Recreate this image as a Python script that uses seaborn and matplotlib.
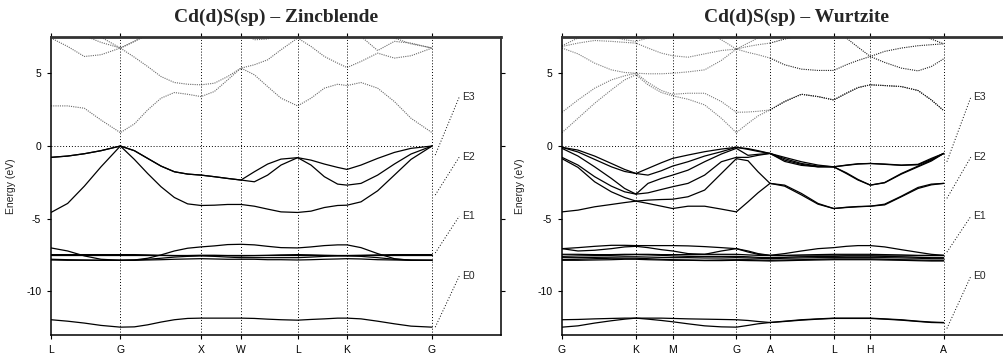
import matplotlib
matplotlib.use("Agg")
import matplotlib.pyplot as plt
import seaborn as sns

#Style
sns.set_style("ticks")
plt.rcParams['font.family'] = ['Liberation Sans', 'DejaVu Sans']
plt.rcParams['axes.unicode_minus'] = False

#Zincblende path L-G-X-W-L-K-G
zb_k = [0.000, 0.208, 0.417, 0.625, 0.867, 1.042, 1.208, 1.375, 1.542, 1.708, 1.875,
        2.042, 2.208, 2.375, 2.542, 2.708, 2.875, 3.083, 3.250, 3.417, 3.583, 3.700,
        3.875, 4.083, 4.292, 4.500, 4.763]
zb_ticks = [0.000, 0.867, 1.875, 2.375, 3.083, 3.700, 4.763]
zb_labels = ["L", "G", "X", "W", "L", "K", "G"]

zb_v3 = [-0.78, -0.69, -0.53, -0.32, 0.00, -0.32, -0.85, -1.38, -1.77, -1.93, -2.00, -2.11, -2.23, -2.34,
         -1.77, -1.24, -0.90, -0.80, -0.97, -1.24, -1.47, -1.61, -1.31, -0.85, -0.44, -0.16, 0.00]
zb_v2 = [-0.78, -0.69, -0.53, -0.32, 0.00, -0.32, -0.85, -1.38, -1.77, -1.93, -2.00, -2.11, -2.23, -2.34,
         -2.46, -2.00, -1.31, -0.80, -1.31, -2.11, -2.62, -2.69, -2.57, -2.00, -1.24, -0.55, 0.00]
zb_v1 = [-4.57, -3.95, -2.76, -1.43, 0.00, -0.92, -1.89, -2.80, -3.54, -3.98, -4.09, -4.07, -4.02, -4.02,
         -4.14, -4.34, -4.53, -4.57, -4.48, -4.23, -4.09, -4.07, -3.84, -3.08, -2.00, -0.92, 0.00]

zb_d5 = [-7.01, -7.22, -7.56, -7.79, -7.86, -7.84, -7.72, -7.49, -7.22, -7.03, -6.94, -6.87, -6.78, -6.76,
         -6.80, -6.90, -6.99, -7.01, -6.94, -6.85, -6.80, -6.80, -6.99, -7.40, -7.75, -7.86, -7.86]
zb_d4 = [-7.47, -7.47, -7.47, -7.47, -7.47, -7.47, -7.47, -7.47, -7.47, -7.47, -7.47, -7.47, -7.47, -7.47,
         -7.47, -7.47, -7.47, -7.47, -7.47, -7.47, -7.47, -7.47, -7.47, -7.47, -7.47, -7.47, -7.47]
zb_d3 = [-7.47, -7.47, -7.47, -7.47, -7.47, -7.47, -7.49, -7.52, -7.54, -7.54, -7.52, -7.52, -7.54, -7.56,
         -7.54, -7.52, -7.49, -7.47, -7.49, -7.52, -7.54, -7.54, -7.52, -7.49, -7.47, -7.47, -7.47]
zb_d2 = [-7.79, -7.82, -7.84, -7.86, -7.86, -7.84, -7.79, -7.72, -7.64, -7.59, -7.56, -7.59, -7.64, -7.68,
         -7.68, -7.68, -7.68, -7.68, -7.64, -7.59, -7.56, -7.56, -7.59, -7.68, -7.79, -7.84, -7.86]
zb_d1 = [-7.84, -7.86, -7.86, -7.86, -7.86, -7.86, -7.84, -7.82, -7.79, -7.77, -7.75, -7.77, -7.79, -7.79,
         -7.79, -7.82, -7.82, -7.84, -7.82, -7.79, -7.77, -7.75, -7.77, -7.82, -7.84, -7.86, -7.86]
zb_s = [-11.95, -12.05, -12.18, -12.34, -12.46, -12.44, -12.30, -12.11, -11.95, -11.86, -11.84, -11.84, -11.84,
        -11.84, -11.86, -11.91, -11.95, -11.98, -11.93, -11.89, -11.84, -11.84, -11.89, -12.05, -12.23, -12.39, -12.46]

zb_c1 = [2.76, 2.76, 2.60, 1.79, 0.92, 1.52, 2.48, 3.29, 3.68, 3.56, 3.40, 3.75, 4.55, 5.36,
         4.90, 4.09, 3.29, 2.76, 3.29, 3.98, 4.25, 4.16, 4.37, 3.98, 3.06, 1.91, 0.92]
zb_c2 = [7.43, 6.85, 6.16, 6.28, 6.74, 6.11, 5.47, 4.78, 4.37, 4.25, 4.21, 4.32, 4.78, 5.36,
         5.59, 5.93, 6.62, 7.43, 6.85, 6.16, 5.70, 5.40, 5.82, 6.39, 6.05, 6.21, 6.74]
zb_c3 = [8.23, 8.00, 7.59, 7.13, 6.74, 7.20, 7.66, 8.11, 8.34, 8.46, 8.46, 8.34, 8.11, 7.89,
         7.31, 7.36, 7.89, 8.11, 8.11, 8.23, 8.00, 7.89, 7.54, 6.57, 7.20, 7.08, 6.74]
zb_c4 = [8.69, 8.46, 8.05, 7.49, 6.74, 7.20, 7.70, 8.23, 8.46, 8.57, 8.57, 8.57, 8.46, 8.34,
         8.34, 8.46, 8.46, 8.46, 8.46, 8.46, 8.46, 8.46, 8.34, 8.00, 7.43, 7.03, 6.74]

#Wurtzite path G-K-M-G-A-L-H-A
wz_k = [0.000, 0.200, 0.408, 0.617, 0.783, 0.925, 1.075, 1.242, 1.383, 1.575, 1.783, 1.992, 2.179,
        2.325, 2.450, 2.600, 2.783, 2.992, 3.200, 3.396, 3.554, 3.700, 3.854, 4.033, 4.242, 4.450,
        4.617, 4.771]
wz_ticks = [0.000, 0.925, 1.383, 2.179, 2.600, 3.396, 3.854, 4.771]
wz_labels = ["G", "K", "M", "G", "A", "L", "H", "A"]

wz_v6 = [-0.09, -0.28, -0.69, -1.20, -1.61, -1.89, -1.54, -1.15, -0.85, -0.62, -0.39, -0.21, -0.09, -0.18,
         -0.32, -0.51, -0.78, -1.08, -1.31, -1.43, -1.31, -1.22, -1.20, -1.24, -1.31, -1.26, -0.85, -0.51]
wz_v5 = [-0.09, -0.41, -0.92, -1.43, -1.75, -1.89, -2.00, -1.70, -1.38, -1.08, -0.69, -0.39, -0.09, -0.23,
         -0.37, -0.51, -0.87, -1.20, -1.38, -1.43, -1.33, -1.24, -1.20, -1.26, -1.33, -1.29, -0.92, -0.51]
wz_v4 = [-0.16, -0.69, -1.43, -2.23, -2.92, -3.31, -2.57, -2.23, -2.00, -1.66, -1.08, -0.55, -0.16, -0.64,
         -0.57, -0.51, -0.97, -1.26, -1.43, -1.43, -1.84, -2.30, -2.69, -2.51, -1.89, -1.38, -0.97, -0.51]
wz_v3 = [-0.78, -1.31, -2.11, -2.76, -3.15, -3.31, -3.22, -2.99, -2.80, -2.57, -2.00, -1.08, -0.78, -0.78,
         -0.64, -0.51, -1.06, -1.33, -1.43, -1.43, -1.89, -2.34, -2.69, -2.53, -1.93, -1.43, -1.03, -0.51]
wz_v2 = [-0.87, -1.47, -2.46, -3.15, -3.54, -3.79, -3.72, -3.68, -3.66, -3.49, -3.03, -1.89, -0.87, -1.01,
         -1.77, -2.57, -2.69, -3.26, -3.95, -4.30, -4.21, -4.16, -4.14, -4.00, -3.45, -2.85, -2.62, -2.57]
wz_v1 = [-4.53, -4.41, -4.18, -4.02, -3.89, -3.79, -3.95, -4.14, -4.30, -4.14, -4.14, -4.34, -4.53, -3.84,
         -3.22, -2.57, -2.76, -3.36, -4.00, -4.30, -4.23, -4.18, -4.14, -4.05, -3.49, -2.92, -2.67, -2.57]

wz_dA = [-7.06, -6.99, -6.90, -6.83, -6.83, -6.85, -6.85, -6.85, -6.85, -6.87, -6.92, -6.99, -7.06, -7.22,
         -7.40, -7.52, -7.40, -7.22, -7.06, -6.99, -6.90, -6.85, -6.85, -6.94, -7.13, -7.31, -7.45, -7.52]
wz_dB = [-7.06, -7.22, -7.17, -7.06, -6.94, -6.90, -6.99, -7.13, -7.22, -7.40, -7.45, -7.22, -7.06, -7.29,
         -7.45, -7.52, -7.52, -7.49, -7.47, -7.45, -7.45, -7.45, -7.45, -7.47, -7.49, -7.52, -7.52, -7.52]
wz_dC = [-7.45, -7.45, -7.47, -7.47, -7.45, -7.45, -7.45, -7.47, -7.47, -7.47, -7.45, -7.45, -7.45, -7.49,
         -7.52, -7.54, -7.54, -7.56, -7.56, -7.56, -7.56, -7.56, -7.56, -7.56, -7.56, -7.54, -7.54, -7.54]
wz_dD = [-7.59, -7.56, -7.54, -7.52, -7.49, -7.47, -7.49, -7.52, -7.56, -7.59, -7.59, -7.59, -7.59, -7.62,
         -7.66, -7.68, -7.66, -7.62, -7.59, -7.59, -7.56, -7.56, -7.56, -7.59, -7.62, -7.66, -7.68, -7.68]
wz_dE = [-7.68, -7.68, -7.66, -7.64, -7.62, -7.62, -7.64, -7.66, -7.68, -7.68, -7.70, -7.70, -7.68, -7.70,
         -7.72, -7.75, -7.72, -7.70, -7.68, -7.68, -7.68, -7.68, -7.68, -7.68, -7.70, -7.72, -7.75, -7.75]
wz_dF = [-7.82, -7.79, -7.75, -7.72, -7.72, -7.72, -7.75, -7.79, -7.82, -7.84, -7.86, -7.84, -7.82, -7.82,
         -7.84, -7.86, -7.84, -7.82, -7.79, -7.77, -7.77, -7.77, -7.77, -7.79, -7.82, -7.84, -7.86, -7.86]
wz_dG = [-7.86, -7.86, -7.84, -7.82, -7.79, -7.79, -7.82, -7.84, -7.86, -7.86, -7.88, -7.88, -7.86, -7.88,
         -7.89, -7.91, -7.89, -7.86, -7.84, -7.82, -7.82, -7.82, -7.82, -7.84, -7.86, -7.89, -7.91, -7.91]
wz_s1 = [-11.95, -11.93, -11.89, -11.86, -11.84, -11.84, -11.84, -11.84, -11.86, -11.89, -11.91, -11.93, -11.95,
         -12.00, -12.07, -12.14, -12.05, -11.95, -11.89, -11.84, -11.84, -11.84, -11.84, -11.89, -11.95, -12.05,
         -12.11, -12.14]
wz_s2 = [-12.46, -12.37, -12.18, -12.02, -11.91, -11.84, -11.91, -12.00, -12.09, -12.23, -12.37, -12.44, -12.46,
         -12.34, -12.23, -12.14, -12.07, -11.98, -11.91, -11.86, -11.86, -11.86, -11.86, -11.91, -11.98, -12.07,
         -12.14, -12.16]

wz_c1 = [0.92, 1.91, 2.94, 3.86, 4.55, 4.90, 4.21, 3.68, 3.45, 3.22, 2.83, 1.91, 0.92, 1.56,
         2.07, 2.48, 3.06, 3.56, 3.40, 3.17, 3.63, 4.02, 4.21, 4.16, 4.09, 3.82, 3.17, 2.44]
wz_c2 = [2.32, 3.17, 3.98, 4.55, 4.83, 5.01, 4.37, 3.82, 3.56, 3.63, 3.63, 3.06, 2.32, 2.34,
         2.39, 2.48, 3.06, 3.56, 3.40, 3.17, 3.63, 4.02, 4.21, 4.16, 4.09, 3.82, 3.17, 2.44]
wz_c3 = [6.74, 6.34, 5.70, 5.24, 5.06, 5.01, 4.97, 4.97, 5.01, 5.10, 5.24, 5.89, 6.67, 6.44,
         6.28, 6.05, 5.59, 5.29, 5.20, 5.20, 5.59, 5.89, 6.16, 5.75, 5.36, 5.17, 5.47, 6.00]
wz_c4 = [6.85, 7.08, 7.26, 7.20, 7.13, 7.08, 6.74, 6.39, 6.21, 6.11, 6.34, 6.57, 6.67, 6.85,
         6.97, 7.08, 7.36, 7.59, 7.77, 7.89, 7.43, 6.80, 6.16, 6.51, 6.74, 6.90, 6.97, 7.03]
wz_c5 = [6.90, 7.43, 7.66, 7.54, 7.31, 7.20, 7.43, 7.59, 7.54, 8.00, 7.89, 7.31, 6.67, 7.08,
         7.43, 7.54, 8.00, 8.23, 8.34, 8.34, 8.00, 7.77, 8.00, 8.23, 8.00, 7.66, 7.36, 7.03]

#Band edge labels (leader line start -> label)
e_names = ["E0", "E1", "E2", "E3"]
e_label_y = [-8.95, -4.83, -0.76, 3.37]
zb_e_start = [-12.46, -7.36, -3.37, -0.62]
wz_e_start = [-12.55, -7.30, -3.60, -1.08]

DOT = (0, (1, 1))


def draw_panel(ax, k, ticks, labels, solid, dotted, e_start, xmax, title, split=None):
    for band in solid:
        sns.lineplot(x=k, y=band, ax=ax, color="black", linewidth=0.9)
    for band in dotted:
        if split is None:
            sns.lineplot(x=k, y=band, ax=ax, color="#6a6a6a", linewidth=0.8, linestyle=DOT)
        else:
            sns.lineplot(x=k[:split + 1], y=band[:split + 1], ax=ax, color="#7a7a7a",
                         linewidth=0.8, linestyle=DOT)
            sns.lineplot(x=k[split:], y=band[split:], ax=ax, color="#202020",
                         linewidth=0.8, linestyle=DOT)
    for t in ticks[1:]:
        ax.axvline(t, color="black", linewidth=0.7, linestyle=(0, (1, 2)))
    ax.plot([0, ticks[-1]], [0, 0], color="black", linewidth=0.7, linestyle=(0, (1, 2)))

    x0, x1 = ticks[-1] + 0.04, ticks[-1] + 0.34
    for name, ys, ye in zip(e_names, e_start, e_label_y):
        ax.plot([x0, x1], [ys, ye], color="black", linewidth=0.7, linestyle=(0, (1, 2)))
        ax.text(x1 + 0.03, ye, name, fontsize=7.5, va="center", ha="left")

    ax.set_xlim(0, xmax)
    ax.set_ylim(-13.0, 7.5)
    ax.set_xticks(ticks)
    ax.set_xticklabels(labels)
    ax.set_yticks([-10, -5, 0, 5])
    ax.set_yticklabels(["-10", "-5", "0", "5"])
    ax.tick_params(direction="out", length=3, width=0.8, top=True, right=True,
                   labelsize=7.5, pad=4, colors="black")
    ax.set_xlabel("")
    ax.set_ylabel("Energy (eV)", fontsize=7.5)
    ax.yaxis.set_label_coords(-0.078, 0.5)
    for side in ["left", "right", "bottom"]:
        ax.spines[side].set_linewidth(1.1)
        ax.spines[side].set_color("black")
    ax.spines["top"].set_linewidth(2.0)
    ax.spines["top"].set_color("#333333")
    ax.set_title(title, fontfamily="Liberation Serif", fontweight="bold", fontsize=14, pad=11)


fig = plt.figure(figsize=(10.04, 3.56), dpi=100)
ax1 = fig.add_axes([51 / 1004, 21 / 356, 450 / 1004, 298 / 356])
ax2 = fig.add_axes([562 / 1004, 21 / 356, 470 / 1004, 298 / 356])

draw_panel(ax1, zb_k, zb_ticks, zb_labels,
           [zb_s, zb_d1, zb_d2, zb_d3, zb_d4, zb_d5, zb_v1, zb_v2, zb_v3],
           [zb_c1, zb_c2, zb_c3, zb_c4],
           zb_e_start, 5.625, "Cd(d)S(sp) \u2013 Zincblende")
draw_panel(ax2, wz_k, wz_ticks, wz_labels,
           [wz_s1, wz_s2, wz_dA, wz_dB, wz_dC, wz_dD, wz_dE, wz_dF, wz_dG,
            wz_v1, wz_v2, wz_v3, wz_v4, wz_v5, wz_v6],
           [wz_c1, wz_c2, wz_c3, wz_c4, wz_c5],
           wz_e_start, 5.875, "Cd(d)S(sp) \u2013 Wurtzite", split=15)

fig.savefig("out.png", dpi=100)
